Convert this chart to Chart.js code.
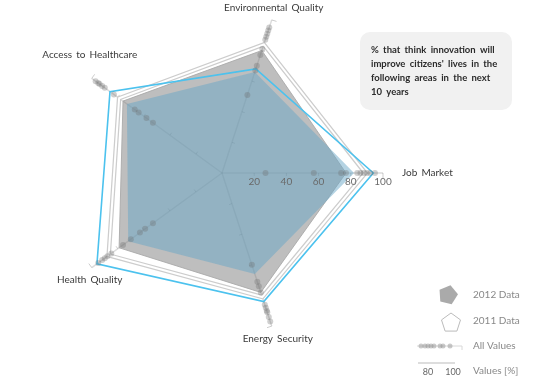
<!DOCTYPE html>
<html><head><meta charset="utf-8">
<script src="https://cdn.jsdelivr.net/npm/chart.js@4/dist/chart.umd.min.js"></script>
<style>html,body{margin:0;padding:0;background:#fff;}#wrap{width:550px;height:383px;position:relative;}</style>
</head><body><div id="wrap"><canvas id="c" width="550" height="383"></canvas></div>
<script>
// ---- data ----
const categories = ['Job Market', 'Energy Security', 'Health Quality', 'Access to Healthcare', 'Environmental Quality'];
const data2012 = [77, 78, 79, 76, 80];
const data2011 = [89, 81, 87, 79, 84];
const highlightLine = [94, 84, 96, 86, 68];
const highlightFill = [82, 66, 72, 73, 66];
// individual values along each axis ("All Values")
const valuesJobMarket   = [27, 57, 74, 77, 84, 86, 88, 90, 92, 95];
const valuesEnergy      = [60, 71, 74, 78, 86, 88, 91, 94, 97, 90];
const valuesHealth      = [53, 59, 63, 70, 76, 85, 90, 92, 95, 88];
const valuesAccess      = [53, 58, 64, 67, 83, 90, 92, 95, 97, 94];
const valuesEnvironment = [51, 67, 70, 77, 87, 89, 91, 93, 95, 81];
const tickValues = [20, 40, 60, 80, 100];
const titleLines = ['% that think innovation will', "improve citizens' lives in the", 'following areas in the next', '10 years'];
const legendLabels = ['2012 Data', '2011 Data', 'All Values', 'Values [%]'];

const FONT = 'Lato';
const dotSets = valuesJobMarket.map((_, k) => ({
  label: 'All Values',
  data: [valuesJobMarket[k], valuesEnergy[k], valuesHealth[k], valuesAccess[k], valuesEnvironment[k]],
  showLine: false, fill: false, borderWidth: 0, borderColor: 'rgba(0,0,0,0)',
  pointRadius: 3, pointBorderWidth: 0, pointBackgroundColor: 'rgba(110,110,110,0.33)', order: 1
}));

const datasets = [
  { label: '2012 Data', data: data2012, fill: true, backgroundColor: 'rgba(125,125,125,0.5)', borderColor: 'rgba(170,170,170,0.9)', borderWidth: 1, pointRadius: 0, order: 6 },
  { label: '2011 Data', data: data2011, fill: false, borderColor: '#cdcdcd', borderWidth: 4.5, pointRadius: 0, order: 5 },
  { label: '2011 inner', data: data2011, fill: false, borderColor: '#ffffff', borderWidth: 2, pointRadius: 0, order: 4 },
  { label: 'Fill', data: highlightFill, fill: true, backgroundColor: 'rgba(105,168,200,0.5)', borderWidth: 0, borderColor: 'rgba(0,0,0,0)', pointRadius: 0, order: 3 },
  { label: 'Line', data: highlightLine, fill: false, borderColor: '#4cc2ee', borderWidth: 1.6, pointRadius: 0, order: 2 },
  ...dotSets
];

const labelOffsets = [[19, 0, 'left'], [6, 13, 'center'], [-2, 12, 'center'], [-2, -24, 'center'], [2, -12, 'center']];

function pentagon(ctx, cx, cy, r, rot) {
  ctx.beginPath();
  for (let i = 0; i < 5; i++) {
    const a = -Math.PI / 2 + rot + i * 2 * Math.PI / 5;
    const x = cx + r * Math.cos(a), y = cy + r * Math.sin(a);
    i ? ctx.lineTo(x, y) : ctx.moveTo(x, y);
  }
  ctx.closePath();
}

const decor = {
  id: 'decor',
  beforeDatasetsDraw(chart) {
    const s = chart.scales.r, ctx = chart.ctx;
    ctx.save();
    ctx.strokeStyle = 'rgba(0,0,0,0.2)';
    ctx.lineWidth = 1;
    categories.forEach((c, i) => {
      tickValues.forEach(v => {
        const p = s.getPointPositionForValue(i, v);
        const a = p.angle, px = -Math.sin(a), py = Math.cos(a);
        const len = v === 100 ? 5 : 3;
        ctx.beginPath();
        ctx.moveTo(p.x, p.y);
        ctx.lineTo(p.x + px * len, p.y + py * len);
        ctx.stroke();
      });
    });
    ctx.restore();
  },
  afterDatasetsDraw(chart) {
    const s = chart.scales.r, ctx = chart.ctx;
    ctx.save();
    // tick labels along first axis
    ctx.font = '10px ' + FONT;
    ctx.fillStyle = '#6a6a6a';
    ctx.textAlign = 'center';
    ctx.textBaseline = 'middle';
    tickValues.forEach(v => {
      const p = s.getPointPositionForValue(0, v);
      ctx.fillText(String(v), p.x, p.y + 9);
    });
    // point labels
    ctx.font = '10px ' + FONT;
    ctx.fillStyle = '#3a3a3a';
    try { ctx.wordSpacing = '1.5px'; } catch (e) {}
    categories.forEach((c, i) => {
      const p = s.getPointPosition(i, s.drawingArea);
      const o = labelOffsets[i];
      ctx.textAlign = o[2];
      ctx.fillText(c, p.x + o[0], p.y + o[1]);
    });
    // title box
    ctx.fillStyle = '#f1f1f1';
    ctx.beginPath();
    ctx.roundRect(360, 32, 152, 78, 10);
    ctx.fill();
    ctx.fillStyle = '#2b2b2b';
    ctx.font = 'bold 9.5px ' + FONT;
    ctx.textAlign = 'left';
    try { ctx.wordSpacing = '2px'; } catch (e) {}
    titleLines.forEach((t, k) => ctx.fillText(t, 371, 50 + k * 14));
    try { ctx.wordSpacing = '0px'; } catch (e) {}
    // legend
    ctx.fillStyle = '#aaaaaa';
    pentagon(ctx, 448, 295, 10, 0.25);
    ctx.fill();
    ctx.strokeStyle = '#bbbbbb';
    ctx.lineWidth = 1;
    pentagon(ctx, 451, 323, 10, 0);
    ctx.stroke();
    ctx.strokeStyle = '#d8d8d8';
    ctx.beginPath(); ctx.moveTo(417, 346); ctx.lineTo(462, 346); ctx.lineTo(462, 350); ctx.stroke();
    ctx.fillStyle = 'rgba(150,150,150,0.5)';
    [421, 425, 428, 431, 434, 440, 443, 450].forEach(x => { ctx.beginPath(); ctx.arc(x, 346, 2.5, 0, Math.PI * 2); ctx.fill(); });
    ctx.strokeStyle = '#bbb';
    ctx.beginPath(); ctx.moveTo(418, 363); ctx.lineTo(455, 363); ctx.stroke();
    ctx.font = '9px ' + FONT;
    ctx.fillStyle = '#666';
    ctx.textAlign = 'center';
    ctx.fillText('80', 428, 372);
    ctx.fillText('100', 453, 372);
    ctx.font = '10px ' + FONT;
    ctx.fillStyle = '#888';
    ctx.textAlign = 'left';
    [295, 321, 346, 371].forEach((y, k) => ctx.fillText(legendLabels[k], 473, y));
    ctx.restore();
  }
};

new Chart(document.getElementById('c'), {
  type: 'radar',
  data: { labels: categories, datasets },
  options: {
    responsive: false, animation: false,
    layout: { padding: { left: 61, right: 167, top: 12, bottom: 49 } },
    plugins: { legend: { display: false }, tooltip: { enabled: false } },
    elements: { line: { tension: 0 } },
    scales: { r: {
      min: 0, max: 100, startAngle: 90,
      grid: { display: false },
      angleLines: { display: true, color: 'rgba(0,0,0,0.14)', lineWidth: 1.5 },
      ticks: { display: false, stepSize: 20 },
      pointLabels: { display: false }
    } }
  },
  plugins: [decor]
});
</script></body></html>
